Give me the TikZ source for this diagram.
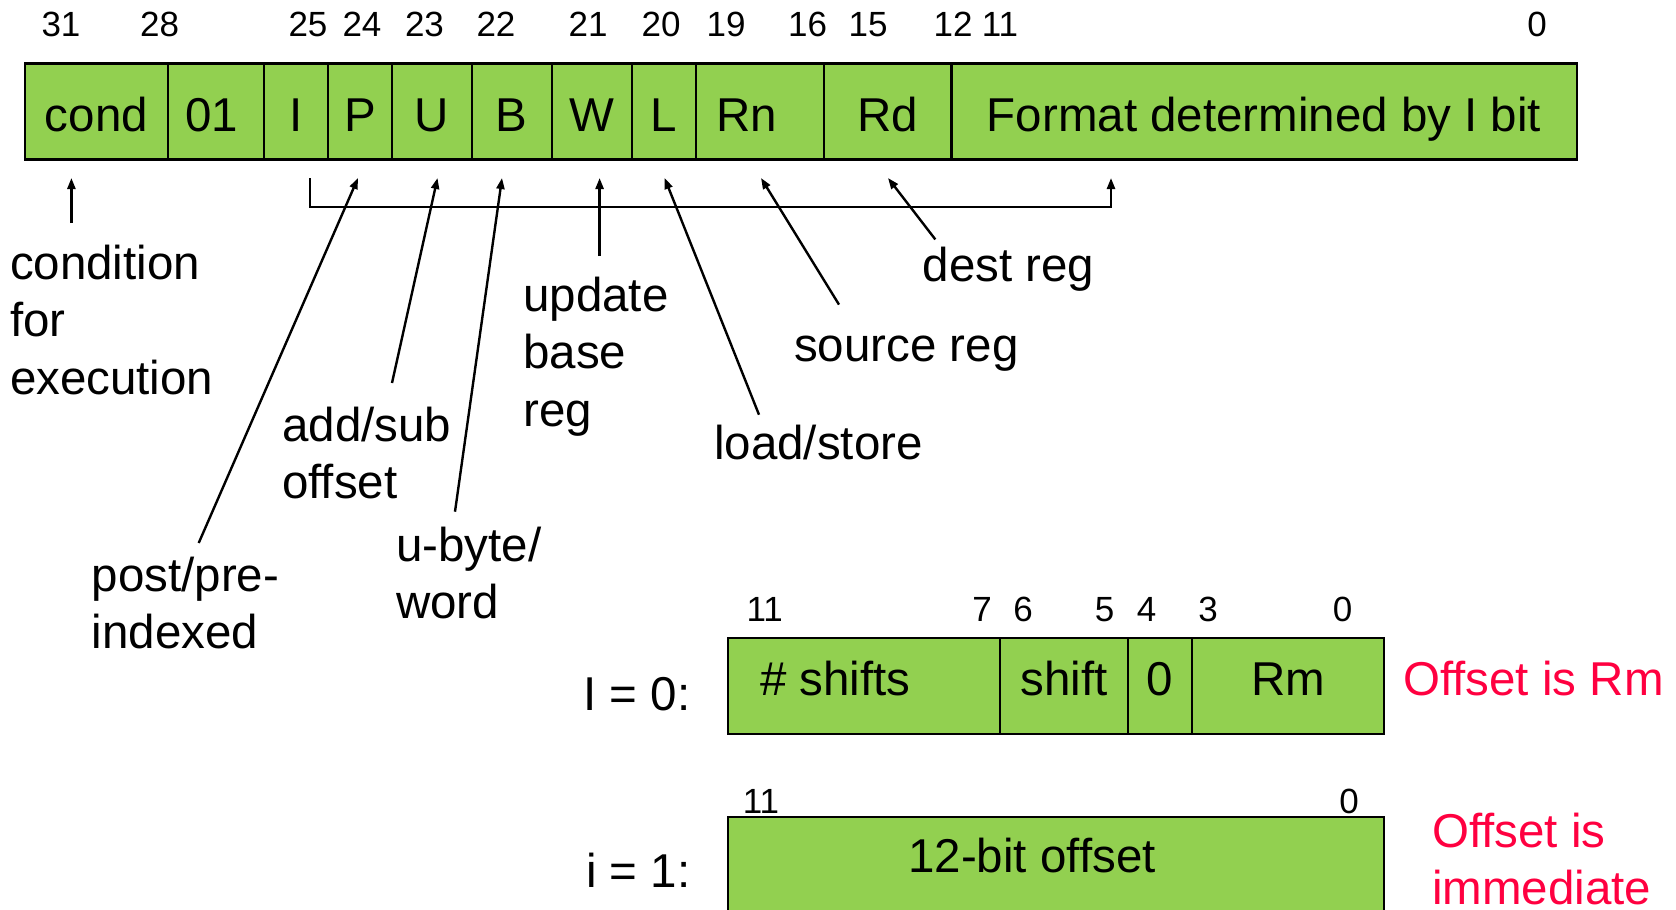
\documentclass[tikz,border=0pt]{standalone}
\usepackage{fontspec}
\setmainfont{Liberation Sans}
\usetikzlibrary{arrows.meta}
\definecolor{cellgreen}{RGB}{146,208,80}
\definecolor{offred}{RGB}{255,0,64}
\newcommand\mylines[1]{\begin{tabular}[t]{@{}l@{}}#1\end{tabular}}
\begin{document}
\begin{tikzpicture}[x=1pt,y=-1pt,
  bigfont/.style={font=\fontsize{47.5}{57.5}\selectfont},
  cell/.style={draw=black, line width=2.2pt, fill=cellgreen, inner sep=0pt, anchor=west,
    minimum height=96pt, bigfont, text height=44pt, text depth=5pt},
  lowcell/.style={cell, text height=30pt, text depth=12pt},
  bitnum/.style={font=\fontsize{35}{40}\selectfont, inner sep=0pt, anchor=base},
  lbl/.style={bigfont, inner sep=0pt, anchor=base west},
  redlbl/.style={lbl, text=offred},
  arr/.style={line width=2.4pt, -{Triangle[length=11pt,width=8pt]}}
]
\clip (0,0) rectangle (1676,910);
\fill[white] (0,0) rectangle (1676,910);

% ---- top instruction word ----
\node[cell, minimum width=143.5pt] (cond) at (23.5,111.5) {cond};
\node[cell, minimum width=95.5pt]  (c01)  at (167,111.5) {01\kern8pt};
\node[cell, minimum width=64.2pt]  (cI)   at (262.5,111.5) {I};
\node[cell, minimum width=64.3pt]  (cP)   at (326.7,111.5) {P};
\node[cell, minimum width=79.8pt]  (cU)   at (391,111.5) {U};
\node[cell, minimum width=79.8pt]  (cB)   at (470.8,111.5) {B};
\node[cell, minimum width=80.4pt]  (cW)   at (550.6,111.5) {W};
\node[cell, minimum width=63.7pt]  (cL)   at (631,111.5) {L};
\node[cell, minimum width=128.3pt] (cRn)  at (694.7,111.5) {Rn\kern26pt};
\node[cell, minimum width=127.3pt] (cRd)  at (823,111.5) {Rd};
\node[cell, minimum width=625.2pt] (cFmt) at (950.3,111.5) {Format determined by I bit};

% bit numbers top
\node[bitnum] (b31) at (61,36) {31};
\node[bitnum] (b28) at (159.6,36) {28};
\node[bitnum] (b25) at (308,36) {25};
\node[bitnum] (b24) at (362,36) {24};
\node[bitnum] (b23) at (424.5,36) {23};
\node[bitnum] (b22) at (496,36) {22};
\node[bitnum] (b21) at (588,36) {21};
\node[bitnum] (b20) at (661,36) {20};
\node[bitnum] (b19) at (726,36) {19};
\node[bitnum] (b16) at (807.6,36) {16};
\node[bitnum] (b15) at (868,36) {15};
\node[bitnum] (b12) at (953,36) {12};
\node[bitnum] (b11) at (1000,36) {11};
\node[bitnum] (b0)  at (1537,36) {0};

% ---- labels ----
\node[lbl] (lcond)  at (9.8,279)  {\mylines{condition\\for\\execution}};
\node[lbl] (lpost)  at (91.5,591) {\mylines{post/pre-\\indexed}};
\node[lbl] (ladd)   at (282,441)  {\mylines{add/sub\\offset}};
\node[lbl] (lbyte)  at (396,561)  {\mylines{u-byte/\\word}};
\node[lbl] (lupd)   at (523,311)  {\mylines{update\\base\\reg}};
\node[lbl] (lload)  at (714,459)  {load/store};
\node[lbl] (lsrc)   at (794,361)  {source reg};
\node[lbl] (ldest)  at (922.5,281) {dest reg};

% arrow ends
\coordinate (tcond) at (71.4,178);  \coordinate (scond) at (71.4,223);
\coordinate (tP) at (358,178);      \coordinate (sP) at (198.7,543);
\coordinate (tU) at (437.5,178);    \coordinate (sU) at (392,383);
\coordinate (tB) at (502,178);      \coordinate (sB) at (455,511.7);
\coordinate (tW) at (599.6,178);    \coordinate (sW) at (599.6,256);
\coordinate (tL) at (664.6,178);    \coordinate (sL) at (759,414.7);
\coordinate (tRn) at (761,178);     \coordinate (sRn) at (839,304.6);
\coordinate (tRd) at (888,178);     \coordinate (sRd) at (935.3,239.4);
\coordinate (brL) at (310,178);     \coordinate (brTip) at (1111,178);

\draw[arr] (scond) -- (tcond);
\draw[arr] (sP) -- (tP);
\draw[arr] (sU) -- (tU);
\draw[arr] (sB) -- (tB);
\draw[arr] (sW) -- (tW);
\draw[arr] (sL) -- (tL);
\draw[arr] (sRn) -- (tRn);
\draw[arr] (sRd) -- (tRd);
\draw[arr] (brL) -- ++(0,29) -| (brTip);

% ---- I = 0 format ----
\node[lbl, anchor=base east] (lI0) at (690.5,710) {I = 0:};
\node[lowcell, minimum width=271.8pt] (dshifts) at (727,686) {\# shifts\kern57pt};
\node[lowcell, minimum width=128.2pt] (dshift)  at (998.8,686) {shift};
\node[lowcell, minimum width=64pt]    (dzero)   at (1127,686) {0};
\node[lowcell, minimum width=192pt]   (dRm)     at (1191,686) {Rm};
\node[redlbl] (lRm) at (1403,695) {Offset is Rm};

\node[bitnum] (lb11) at (764.7,621.7) {11};
\node[bitnum] (lb7)  at (982,621.7) {7};
\node[bitnum] (lb6)  at (1023,621.7) {6};
\node[bitnum] (lb5)  at (1104.5,621.7) {5};
\node[bitnum] (lb4)  at (1146.5,621.7) {4};
\node[bitnum] (lb3)  at (1208,621.7) {3};
\node[bitnum] (lb0)  at (1342.5,621.7) {0};

% ---- i = 1 format ----
\node[lbl, anchor=base east] (lI1) at (690.5,887) {i = 1:};
\node[cell, anchor=north west, minimum width=656pt, minimum height=130pt] (dimm) at (727,816) {};
\node[lbl, anchor=base] (limm) at (1032,872) {12-bit offset};
\node[redlbl] (lImm) at (1432,847) {\mylines{Offset is\\immediate}};

\node[bitnum] (ib11) at (761,813) {11};
\node[bitnum] (ib0)  at (1349,813) {0};
\end{tikzpicture}
\end{document}
